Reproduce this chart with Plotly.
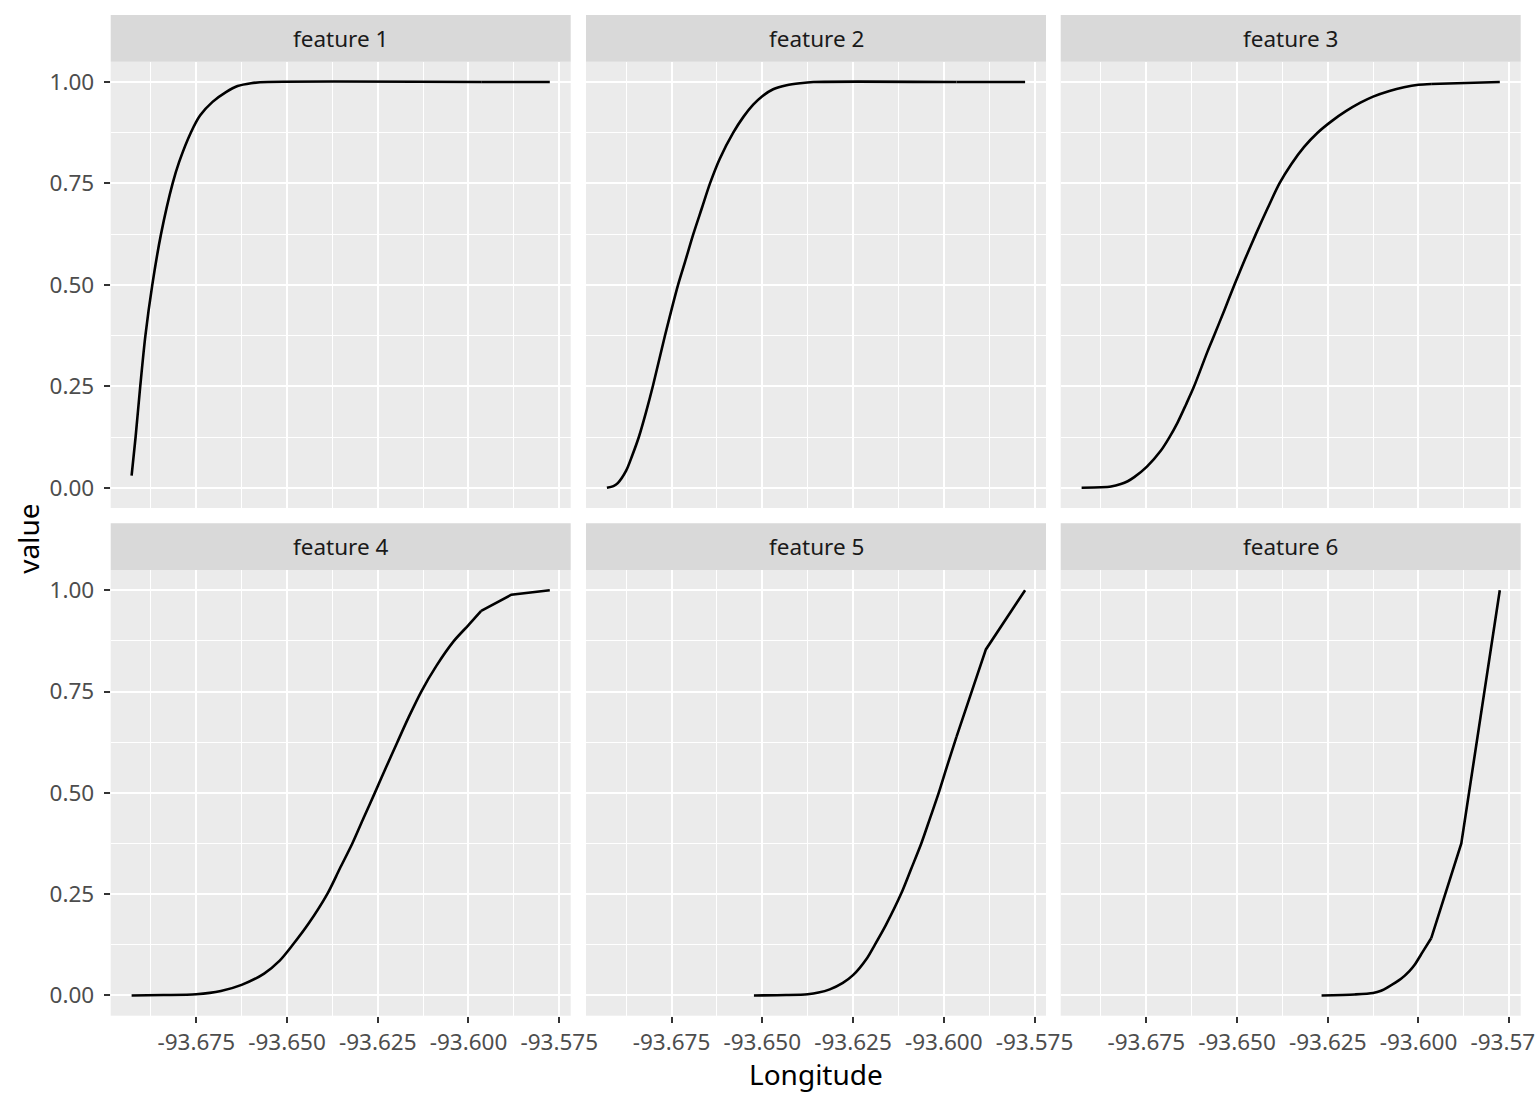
import plotly.graph_objects as go

# ---------------- data ----------------
features = ["feature 1", "feature 2", "feature 3", "feature 4", "feature 5", "feature 6"]

lon_f1 = [-93.6928, -93.6917, -93.6904, -93.6890, -93.6871, -93.6847, -93.6815, -93.6797,
          -93.6765, -93.6739, -93.6705, -93.6668, -93.6636, -93.6599, -93.6553,
          -93.5965, -93.5882, -93.5776]
val_f1 = [0.030, 0.125, 0.252, 0.375, 0.500, 0.625, 0.750, 0.803,
          0.875, 0.918, 0.951, 0.975, 0.990, 0.997, 1.000,
          1.000, 1.000, 1.000]

lon_f2 = [-93.6928, -93.6910, -93.6898, -93.6875, -93.6858, -93.6840, -93.6820, -93.6801,
          -93.6768, -93.6732, -93.6713, -93.6690, -93.6667, -93.6644, -93.6617, -93.6580,
          -93.6552, -93.6525, -93.6500, -93.6470, -93.6433, -93.6396, -93.6359, -93.5965,
          -93.5882, -93.5776]
val_f2 = [0.000, 0.004, 0.0115, 0.042, 0.080, 0.125, 0.187, 0.252,
          0.375, 0.500, 0.556, 0.625, 0.6875, 0.750, 0.811, 0.875,
          0.914, 0.944, 0.965, 0.982, 0.992, 0.997, 1.000, 1.000,
          1.000, 1.000]

lon_f3 = [-93.6928, -93.6875, -93.6847, -93.6820, -93.6801, -93.6783, -93.6748, -93.6710,
          -93.6687, -93.6664, -93.6641, -93.6619, -93.6581, -93.6563, -93.6535, -93.6507,
          -93.6478, -93.6448, -93.6416, -93.6383, -93.6350, -93.6315, -93.6278, -93.6240,
          -93.6200, -93.6160, -93.6125, -93.6080, -93.6040, -93.6000, -93.5965, -93.5882,
          -93.5776]
val_f3 = [0.000, 0.001, 0.003, 0.009, 0.016, 0.026, 0.052, 0.091,
          0.123, 0.160, 0.204, 0.248, 0.336, 0.375, 0.437, 0.500,
          0.563, 0.625, 0.688, 0.750, 0.798, 0.840, 0.875, 0.903,
          0.928, 0.949, 0.964, 0.978, 0.987, 0.993, 0.995, 0.998,
          1.000]

lon_f4 = [-93.6928, -93.6840, -93.6750, -93.6682, -93.6625, -93.6563, -93.6520, -93.6484,
          -93.6440, -93.6388, -93.6355, -93.6320, -93.6289, -93.6258, -93.6227, -93.6196,
          -93.6164, -93.6130, -93.6088, -93.6040, -93.6000, -93.5965, -93.5882, -93.5776]
val_f4 = [0.000, 0.001, 0.003, 0.011, 0.026, 0.054, 0.086, 0.125,
          0.178, 0.252, 0.312, 0.375, 0.438, 0.500, 0.563, 0.625,
          0.688, 0.750, 0.814, 0.875, 0.914, 0.949, 0.989, 1.000]

lon_f5 = [-93.6523, -93.6434, -93.6375, -93.6345, -93.6314, -93.6278, -93.6250, -93.6213,
          -93.6190, -93.6160, -93.6117, -93.6090, -93.6062, -93.6038, -93.6014, -93.5992,
          -93.5965, -93.5884, -93.5776]
val_f5 = [0.000, 0.001, 0.003, 0.007, 0.015, 0.031, 0.050, 0.090,
          0.125, 0.173, 0.252, 0.312, 0.375, 0.437, 0.500, 0.563,
          0.638, 0.854, 1.000]

lon_f6 = [-93.6267, -93.6176, -93.6125, -93.6103, -93.6085, -93.6048, -93.6025, -93.6011,
          -93.5988, -93.5965, -93.5882, -93.5776]
val_f6 = [0.000, 0.0025, 0.0060, 0.0115, 0.020, 0.041, 0.060, 0.075,
          0.108, 0.141, 0.375, 1.000]

x_tickvals = [-93.675, -93.650, -93.625, -93.600, -93.575]
x_ticktext = ["-93.675", "-93.650", "-93.625", "-93.600", "-93.575"]
x_minorvals = [-93.6875, -93.6625, -93.6375, -93.6125, -93.5875]
y_tickvals = [0.0, 0.25, 0.5, 0.75, 1.0]
y_ticktext = ["0.00", "0.25", "0.50", "0.75", "1.00"]
y_minorvals = [0.125, 0.375, 0.625, 0.875]

x_title = "Longitude"
y_title = "value"

# ---------------- layout geometry ----------------
W, H = 1536, 1104
col_px = [(110.7, 570.7), (586.0, 1046.0), (1060.7, 1520.7)]
row_px = [(61.7, 508.0), (570.0, 1015.7)]   # panel top, bottom (px from top)
strip_h = 46.7

series = [(lon_f1, val_f1), (lon_f2, val_f2), (lon_f3, val_f3),
          (lon_f4, val_f4), (lon_f5, val_f5), (lon_f6, val_f6)]

all_lon = [v for lo, _ in series for v in lo]
all_val = [v for _, va in series for v in va]
xmin, xmax = min(all_lon), max(all_lon)
ymin, ymax = min(min(all_val), 0.0), max(all_val)
xr = [xmin - 0.05 * (xmax - xmin), xmax + 0.05 * (xmax - xmin)]
yr = [ymin - 0.05 * (ymax - ymin), ymax + 0.05 * (ymax - ymin)]

FONT = "Noto Sans"
fig = go.Figure()
shapes, annotations = [], []
layout_axes = {}

for i, (lon, val) in enumerate(series):
    r, c = divmod(i, 3)
    n = "" if i == 0 else str(i + 1)
    k = len(lon) - 3  # last three observations are sparse -> straight segments
    fig.add_trace(go.Scatter(x=lon[:k + 1], y=val[:k + 1], mode="lines",
                             line=dict(color="black", width=2.6, shape="spline", smoothing=0.8),
                             xaxis="x" + n, yaxis="y" + n, showlegend=False))
    fig.add_trace(go.Scatter(x=lon[k:], y=val[k:], mode="lines",
                             line=dict(color="black", width=2.6),
                             xaxis="x" + n, yaxis="y" + n, showlegend=False))
    x0, x1 = col_px[c]
    t, b = row_px[r]
    layout_axes["xaxis" + n] = dict(
        domain=[x0 / W, x1 / W], anchor="y" + n, range=xr, automargin=False,
        tickmode="array", tickvals=x_tickvals, ticktext=x_ticktext,
        showticklabels=(r == 1), ticks="outside" if r == 1 else "",
        ticklabeloverflow="allow",
        ticklen=6, tickwidth=2.1, tickcolor="#333333",
        tickfont=dict(family=FONT, size=22.5, color="#4D4D4D"),
        showgrid=True, gridcolor="white", gridwidth=2.1,
        minor=dict(tickmode="array", tickvals=x_minorvals, showgrid=True,
                   gridcolor="white", gridwidth=1.1, ticks=""),
        zeroline=False, showline=False, fixedrange=True,
    )
    layout_axes["yaxis" + n] = dict(
        domain=[1 - b / H, 1 - t / H], anchor="x" + n, range=yr, automargin=False,
        tickmode="array", tickvals=y_tickvals, ticktext=y_ticktext,
        showticklabels=(c == 0), ticks="outside" if c == 0 else "",
        ticklen=6, tickwidth=2.1, tickcolor="#333333", ticklabelstandoff=5,
        tickfont=dict(family=FONT, size=22.5, color="#4D4D4D"),
        showgrid=True, gridcolor="white", gridwidth=2.1,
        minor=dict(tickmode="array", tickvals=y_minorvals, showgrid=True,
                   gridcolor="white", gridwidth=1.1, ticks=""),
        zeroline=False, showline=False, fixedrange=True,
    )
    shapes.append(dict(type="rect", xref="paper", yref="paper",
                       x0=x0 / W, x1=x1 / W, y0=1 - t / H, y1=1 - (t - strip_h) / H,
                       fillcolor="#D9D9D9", line=dict(width=0), layer="below"))
    annotations.append(dict(text=features[i], xref="paper", yref="paper",
                            x=(x0 + x1) / 2 / W, y=1 - (t - strip_h / 2) / H,
                            xanchor="center", yanchor="middle", showarrow=False,
                            font=dict(family=FONT, size=22.5, color="#1A1A1A")))

annotations.append(dict(text=x_title, xref="paper", yref="paper",
                        x=(col_px[0][0] + col_px[2][1]) / 2 / W, y=1 - 1053 / H,
                        xanchor="center", yanchor="top", showarrow=False,
                        font=dict(family=FONT, size=28, color="black")))
annotations.append(dict(text=y_title, xref="paper", yref="paper",
                        x=28 / W, y=1 - (row_px[0][0] + row_px[1][1]) / 2 / H,
                        xanchor="center", yanchor="middle", showarrow=False,
                        textangle=-90,
                        font=dict(family=FONT, size=28, color="black")))

fig.update_layout(
    width=W, height=H, autosize=False, margin=dict(l=0, r=0, t=0, b=0, pad=0),
    paper_bgcolor="white", plot_bgcolor="#EBEBEB",
    shapes=shapes, annotations=annotations, showlegend=False,
    **layout_axes,
)

page_fix = ("document.documentElement.style.overflow='hidden';"
            "document.body.style.margin='0px';"
            "document.body.style.padding='0px';"
            "document.body.style.overflow='hidden';")

fig.write_html("out.html",
               config={"displayModeBar": False, "responsive": False},
               post_script=page_fix)
